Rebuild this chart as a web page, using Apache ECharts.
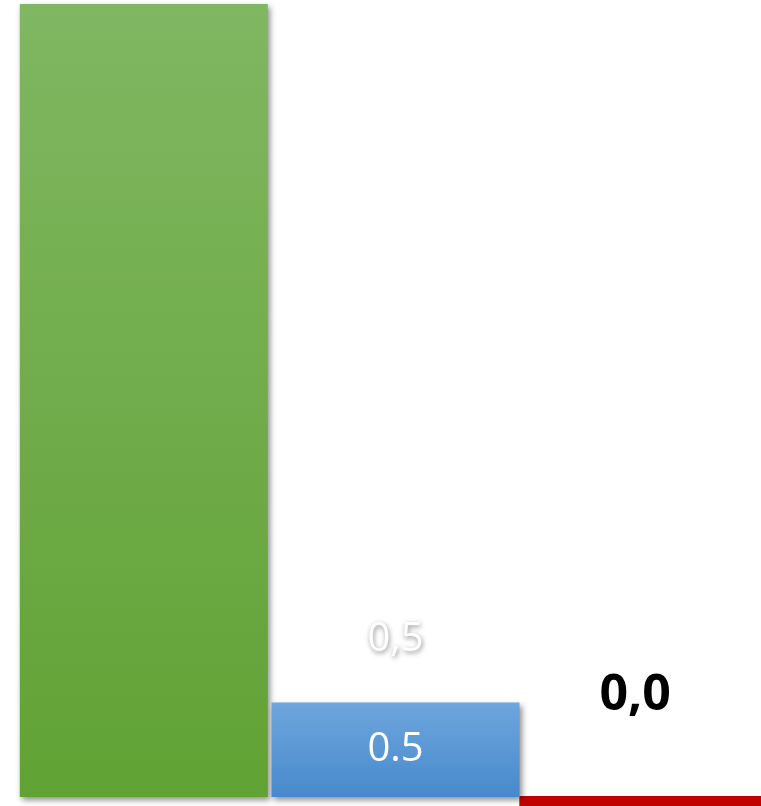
<!DOCTYPE html>
<html>
<head>
<meta charset="utf-8">
<script src="https://cdn.jsdelivr.net/npm/echarts@6/dist/echarts.min.js"></script>
<style>
  html, body { margin: 0; padding: 0; background: #ffffff; }
  #chart { width: 761px; height: 806px; }
</style>
</head>
<body>
<div id="chart"></div>
<script>
// Three categories, one bar each
const categories = ['Groen', 'Blauw', 'Rood'];
const barValues = [4.2, 0.5, 0.0];
// Labels written with a decimal comma above the bars
const commaLabels = ['', '0,5', '0,0'];
// Label written with a decimal point inside the blue bar
const innerLabels = ['', '0.5', ''];

const chart = echarts.init(document.getElementById('chart'), null, { renderer: 'canvas' });

const shadow = {
  shadowColor: 'rgba(0,0,0,0.45)',
  shadowBlur: 6,
  shadowOffsetX: 2,
  shadowOffsetY: 3
};

const grad = (top, bottom) => new echarts.graphic.LinearGradient(0, 0, 0, 1, [
  { offset: 0, color: top },
  { offset: 1, color: bottom }
]);

const barStyles = [
  Object.assign({ color: grad('#80B762', '#61A234') }, shadow),
  Object.assign({ color: grad('#6EA6DD', '#4789CB') }, shadow)
];

const option = {
  animation: false,
  // the third band runs past the right edge of the canvas
  grid: {
    left: 18, width: 755, top: 4, bottom: 9,
    containLabel: false,
    outerBoundsMode: 'none'
  },
  xAxis: {
    type: 'category',
    data: categories,
    show: false
  },
  yAxis: {
    type: 'value',
    min: 0,
    max: 4.2,
    show: false
  },
  series: [
    {
      // Green and blue bars
      type: 'bar',
      barWidth: 248,
      z: 2,
      data: barValues.slice(0, 2).map((v, i) => ({
        value: v,
        itemStyle: barStyles[i],
        label: {
          show: innerLabels[i] !== '',
          position: 'inside',
          formatter: innerLabels[i],
          color: '#ffffff',
          fontFamily: 'Open Sans',
          fontSize: 40
        }
      })).concat(['-'])
    },
    {
      // Comma-formatted value labels above the bars
      type: 'bar',
      barGap: '-100%',
      barWidth: 248,
      silent: true,
      z: 3,
      itemStyle: { color: 'rgba(0,0,0,0)' },
      data: barValues.map((v, i) => ({
        value: v,
        label: i === 1 ? {
          show: true,
          position: 'top',
          distance: 43,
          formatter: commaLabels[i],
          color: '#ffffff',
          fontFamily: 'Open Sans',
          fontSize: 40,
          textShadowColor: 'rgba(0,0,0,0.45)',
          textShadowBlur: 5,
          textShadowOffsetX: 1,
          textShadowOffsetY: 2
        } : i === 2 ? {
          show: true,
          position: 'top',
          distance: 76,
          offset: [-12, 0],
          formatter: commaLabels[i],
          color: '#000000',
          fontFamily: 'Open Sans',
          fontWeight: 'bold',
          fontSize: 50
        } : { show: false }
      }))
    },
    {
      // Zero-value red bar, drawn as a strip along the baseline
      type: 'custom',
      z: 1,
      data: barValues.map((v, i) => [i, v]).slice(2),
      renderItem: function (params, api) {
        const base = api.coord([api.value(0), api.value(1)]);
        const band = api.size([1, 0])[0];
        return {
          type: 'rect',
          shape: { x: base[0] - band / 2 - 2, y: base[1] - 1, width: band + 2, height: 12 },
          style: { fill: '#C00000' }
        };
      }
    }
  ]
};

chart.setOption(option);
</script>
</body>
</html>
